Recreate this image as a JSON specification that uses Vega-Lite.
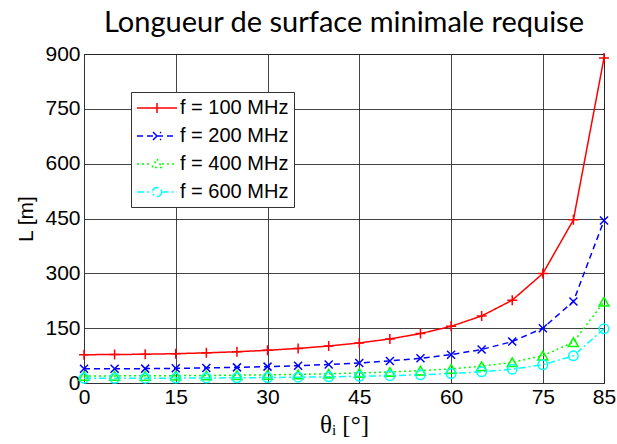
{
  "$schema": "https://vega.github.io/schema/vega-lite/v6.json",
  "width": 520,
  "height": 329,
  "autosize": {"type": "none"},
  "padding": {"left": 84, "top": 54, "right": 13, "bottom": 61},
  "background": "white",
  "title": {"text": "Longueur de surface minimale requise", "font": "Lato", "fontSize": 29, "fontWeight": "normal", "anchor": "middle", "offset": 5, "color": "black"},
  "config": {
    "view": {"stroke": "#333", "strokeWidth": 1},
    "axis": {"gridColor": "#222", "gridOpacity": 0.85, "gridWidth": 1, "domainColor": "#333", "ticks": false, "labelColor": "black", "titleColor": "black", "labelFont": "Liberation Sans", "labelFontSize": 21}
  },
  "data": {"values": [
    {"theta": 0, "series": "f = 100 MHz", "L": 77.5},
    {"theta": 5, "series": "f = 100 MHz", "L": 77.8},
    {"theta": 10, "series": "f = 100 MHz", "L": 78.7},
    {"theta": 15, "series": "f = 100 MHz", "L": 80.2},
    {"theta": 20, "series": "f = 100 MHz", "L": 82.5},
    {"theta": 25, "series": "f = 100 MHz", "L": 85.5},
    {"theta": 30, "series": "f = 100 MHz", "L": 89.5},
    {"theta": 35, "series": "f = 100 MHz", "L": 94.6},
    {"theta": 40, "series": "f = 100 MHz", "L": 101.2},
    {"theta": 45, "series": "f = 100 MHz", "L": 109.6},
    {"theta": 50, "series": "f = 100 MHz", "L": 120.6},
    {"theta": 55, "series": "f = 100 MHz", "L": 135.1},
    {"theta": 60, "series": "f = 100 MHz", "L": 155.0},
    {"theta": 65, "series": "f = 100 MHz", "L": 183.4},
    {"theta": 70, "series": "f = 100 MHz", "L": 226.6},
    {"theta": 75, "series": "f = 100 MHz", "L": 299.4},
    {"theta": 80, "series": "f = 100 MHz", "L": 446.3},
    {"theta": 85, "series": "f = 100 MHz", "L": 889.2},
    {"theta": 0, "series": "f = 200 MHz", "L": 38.75},
    {"theta": 5, "series": "f = 200 MHz", "L": 38.9},
    {"theta": 10, "series": "f = 200 MHz", "L": 39.35},
    {"theta": 15, "series": "f = 200 MHz", "L": 40.1},
    {"theta": 20, "series": "f = 200 MHz", "L": 41.25},
    {"theta": 25, "series": "f = 200 MHz", "L": 42.75},
    {"theta": 30, "series": "f = 200 MHz", "L": 44.75},
    {"theta": 35, "series": "f = 200 MHz", "L": 47.3},
    {"theta": 40, "series": "f = 200 MHz", "L": 50.6},
    {"theta": 45, "series": "f = 200 MHz", "L": 54.8},
    {"theta": 50, "series": "f = 200 MHz", "L": 60.3},
    {"theta": 55, "series": "f = 200 MHz", "L": 67.55},
    {"theta": 60, "series": "f = 200 MHz", "L": 77.5},
    {"theta": 65, "series": "f = 200 MHz", "L": 91.7},
    {"theta": 70, "series": "f = 200 MHz", "L": 113.3},
    {"theta": 75, "series": "f = 200 MHz", "L": 149.7},
    {"theta": 80, "series": "f = 200 MHz", "L": 223.2},
    {"theta": 85, "series": "f = 200 MHz", "L": 444.6},
    {"theta": 0, "series": "f = 400 MHz", "L": 19.4},
    {"theta": 5, "series": "f = 400 MHz", "L": 19.45},
    {"theta": 10, "series": "f = 400 MHz", "L": 19.7},
    {"theta": 15, "series": "f = 400 MHz", "L": 20.05},
    {"theta": 20, "series": "f = 400 MHz", "L": 20.6},
    {"theta": 25, "series": "f = 400 MHz", "L": 21.4},
    {"theta": 30, "series": "f = 400 MHz", "L": 22.4},
    {"theta": 35, "series": "f = 400 MHz", "L": 23.65},
    {"theta": 40, "series": "f = 400 MHz", "L": 25.3},
    {"theta": 45, "series": "f = 400 MHz", "L": 27.4},
    {"theta": 50, "series": "f = 400 MHz", "L": 30.15},
    {"theta": 55, "series": "f = 400 MHz", "L": 33.8},
    {"theta": 60, "series": "f = 400 MHz", "L": 38.75},
    {"theta": 65, "series": "f = 400 MHz", "L": 45.85},
    {"theta": 70, "series": "f = 400 MHz", "L": 56.65},
    {"theta": 75, "series": "f = 400 MHz", "L": 74.85},
    {"theta": 80, "series": "f = 400 MHz", "L": 111.6},
    {"theta": 85, "series": "f = 400 MHz", "L": 222.3},
    {"theta": 0, "series": "f = 600 MHz", "L": 12.9},
    {"theta": 5, "series": "f = 600 MHz", "L": 12.97},
    {"theta": 10, "series": "f = 600 MHz", "L": 13.1},
    {"theta": 15, "series": "f = 600 MHz", "L": 13.4},
    {"theta": 20, "series": "f = 600 MHz", "L": 13.75},
    {"theta": 25, "series": "f = 600 MHz", "L": 14.25},
    {"theta": 30, "series": "f = 600 MHz", "L": 14.9},
    {"theta": 35, "series": "f = 600 MHz", "L": 15.8},
    {"theta": 40, "series": "f = 600 MHz", "L": 16.9},
    {"theta": 45, "series": "f = 600 MHz", "L": 18.3},
    {"theta": 50, "series": "f = 600 MHz", "L": 20.1},
    {"theta": 55, "series": "f = 600 MHz", "L": 22.5},
    {"theta": 60, "series": "f = 600 MHz", "L": 25.8},
    {"theta": 65, "series": "f = 600 MHz", "L": 30.6},
    {"theta": 70, "series": "f = 600 MHz", "L": 37.8},
    {"theta": 75, "series": "f = 600 MHz", "L": 49.9},
    {"theta": 80, "series": "f = 600 MHz", "L": 74.4},
    {"theta": 85, "series": "f = 600 MHz", "L": 148.2}
  ]},
  "encoding": {
    "x": {"field": "theta", "type": "quantitative", "scale": {"domain": [0, 85], "nice": false, "zero": false},
      "axis": {"values": [0, 15, 30, 45, 60, 75, 85], "title": "θᵢ [°]", "titleFont": "Liberation Serif", "titleFontSize": 25, "titleFontWeight": "normal", "titlePadding": 5, "labelPadding": 3, "labelFlush": false, "labelOverlap": false}},
    "y": {"field": "L", "type": "quantitative", "scale": {"domain": [0, 900], "nice": false},
      "axis": {"values": [0, 150, 300, 450, 600, 750, 900], "title": "L [m]", "titleFont": "Liberation Sans", "titleFontSize": 21, "titleFontWeight": "normal", "titlePadding": 8, "labelPadding": 4, "labelFlush": false, "labelOverlap": false}},
    "color": {"field": "series", "type": "nominal",
      "scale": {"domain": ["f = 100 MHz", "f = 200 MHz", "f = 400 MHz", "f = 600 MHz"], "range": ["#ff0000", "#0000ff", "#00ff00", "#00ffff"]},
      "legend": {"title": null, "orient": "none", "legendX": 47, "legendY": 38, "fillColor": "white", "strokeColor": "#333", "padding": 5, "labelFont": "Liberation Sans", "labelFontSize": 20, "labelColor": "black", "labelOffset": 12, "symbolOffset": 10, "rowPadding": 7, "symbolStrokeWidth": 1.5,
        "encode": {"symbols": {"update": {"size": {"value": 400}, "fill": {"value": "transparent"}, "opacity": {"value": 1}}}}}
    }
  },
  "layer": [
    {"mark": {"type": "line", "strokeWidth": 1.5},
      "encoding": {"strokeDash": {"field": "series", "type": "nominal", "scale": {"domain": ["f = 100 MHz", "f = 200 MHz", "f = 400 MHz", "f = 600 MHz"], "range": [[1, 0], [6, 4], [2, 3], [7, 3, 2, 3]]}}}},
    {"transform": [{"filter": "datum.series === 'f = 100 MHz'"}],
      "mark": {"type": "point", "filled": false, "strokeWidth": 1.5, "size": 100, "opacity": 1, "shape": "M-1,0L1,0M0,-1L0,1"}},
    {"transform": [{"filter": "datum.series === 'f = 200 MHz'"}],
      "mark": {"type": "point", "filled": false, "strokeWidth": 1.5, "size": 100, "opacity": 1, "shape": "M-0.8,-0.8L0.8,0.8M-0.8,0.8L0.8,-0.8"}},
    {"transform": [{"filter": "datum.series === 'f = 400 MHz'"}],
      "mark": {"type": "point", "filled": false, "strokeWidth": 1.5, "size": 100, "opacity": 1, "shape": "triangle-up"}},
    {"transform": [{"filter": "datum.series === 'f = 600 MHz'"}],
      "mark": {"type": "point", "filled": false, "strokeWidth": 1.5, "size": 90, "opacity": 1, "shape": "circle"}},
    {"transform": [{"filter": "false"}],
      "mark": {"type": "point", "filled": false, "strokeWidth": 1.5, "size": 400, "opacity": 1},
      "encoding": {"shape": {"field": "series", "type": "nominal", "scale": {"domain": ["f = 100 MHz", "f = 200 MHz", "f = 400 MHz", "f = 600 MHz"], "range": ["M-2,0L2,0M0,-0.5L0,0.5", "M-2,0L2,0M-0.4,-0.4L0.4,0.4M-0.4,0.4L0.4,-0.4", "M-2,0L-0.5,0M0.5,0L2,0M0,-0.5L0.5,0.35L-0.5,0.35Z", "M-2,0L-0.45,0M0.45,0L2,0M0.45,0A0.45,0.45,0,1,1,-0.45,0A0.45,0.45,0,1,1,0.45,0"]}}}}
  ]
}
